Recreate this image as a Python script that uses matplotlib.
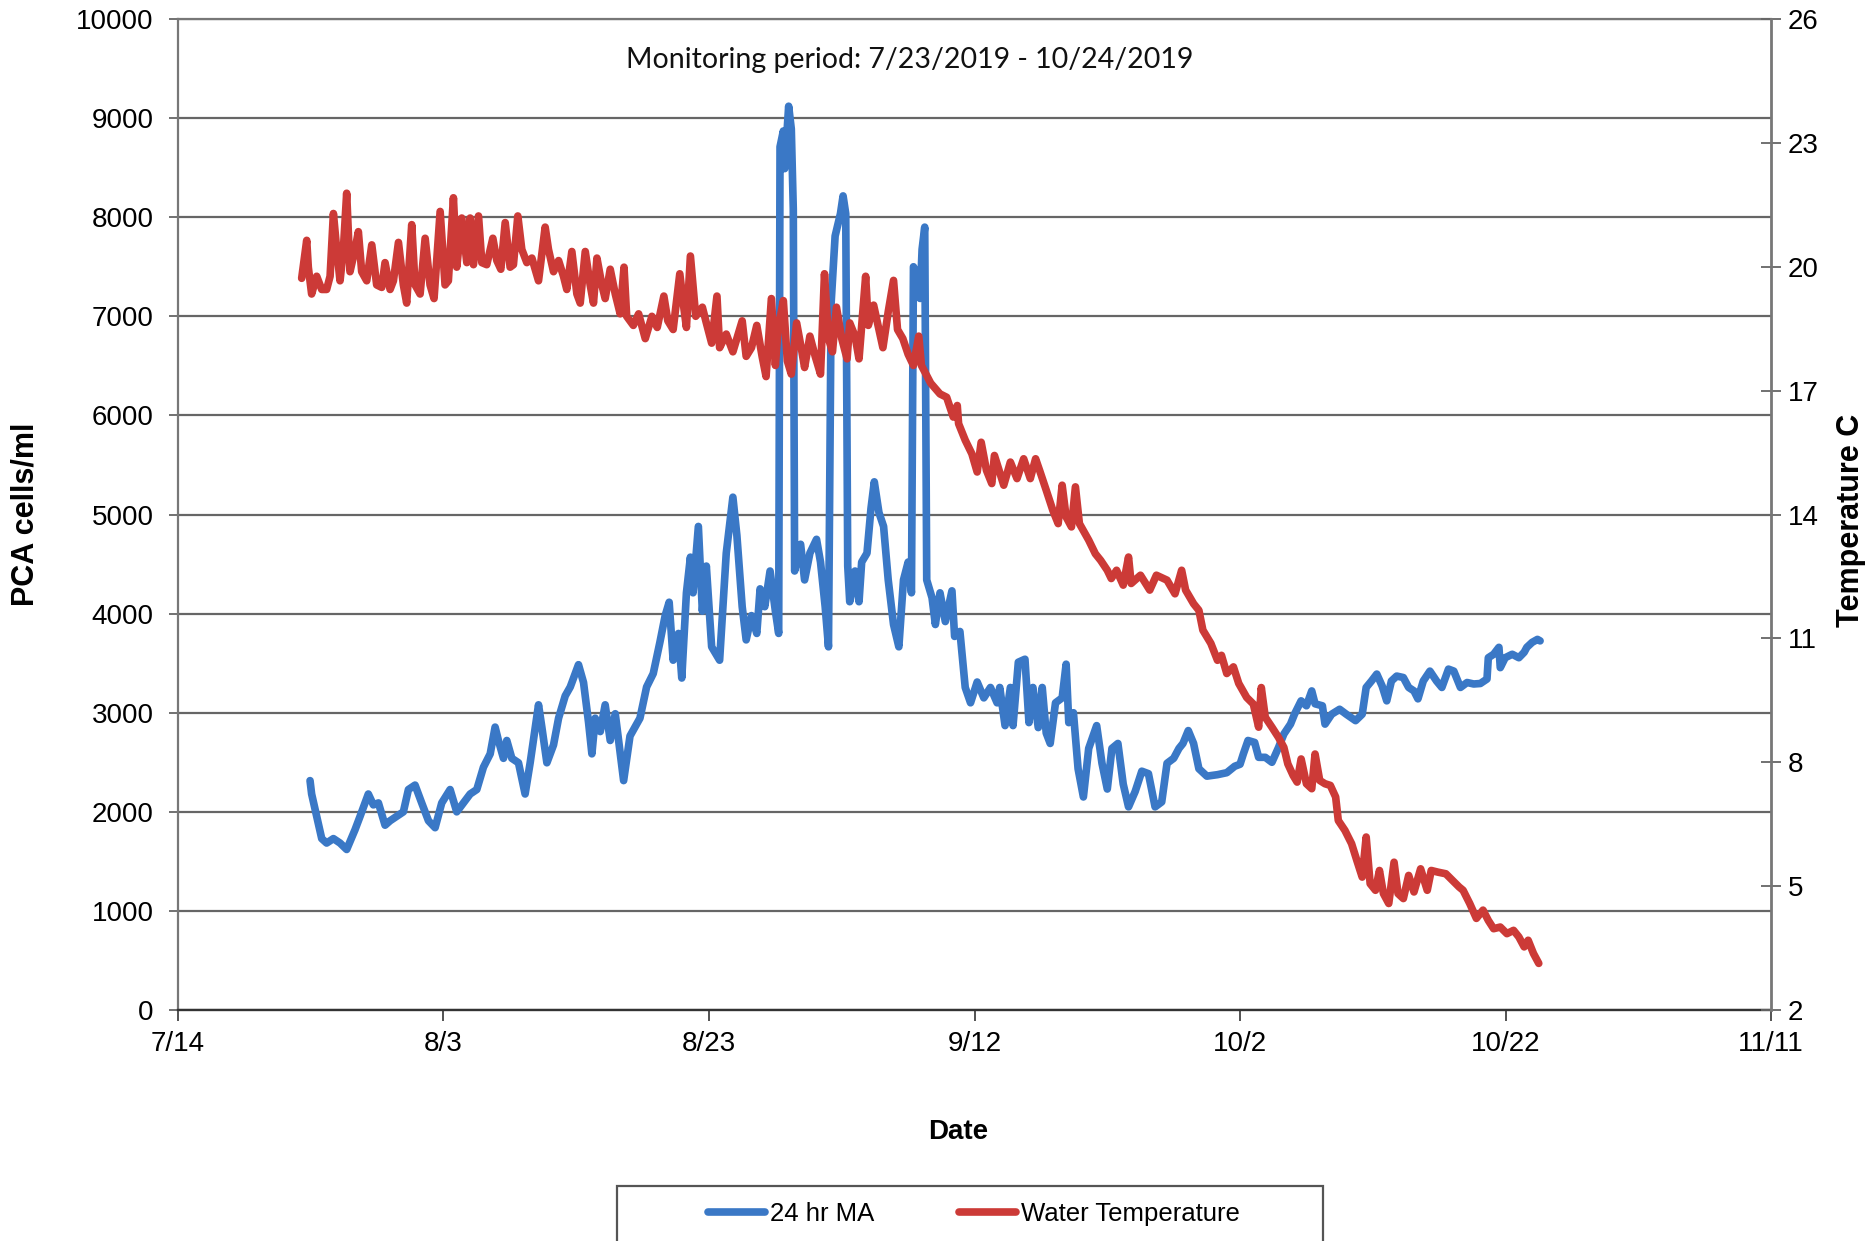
import numpy as np
import pandas as pd
import matplotlib
matplotlib.use("Agg")
import matplotlib.pyplot as plt
from matplotlib.patches import Rectangle

plt.rcParams["font.family"] = ["Liberation Sans", "DejaVu Sans"]

START = pd.Timestamp("2019-07-14")

# 24 hr moving average, PCA cells/ml  (days after 7/14/2019)
pca_day = [
    9.95, 10.07, 10.45, 10.83, 11.20, 11.71, 12.21, 12.71, 13.34, 13.72,
    14.34, 14.72, 15.10, 15.60, 15.98, 16.48, 16.98, 17.36, 17.86, 18.36,
    18.87, 19.37, 19.87, 20.50, 21.00, 21.51, 22.01, 22.51, 23.01, 23.52,
    23.89, 24.14, 24.52, 24.77, 25.15, 25.65, 26.15, 26.53, 27.16, 27.41,
    27.79, 28.29, 28.67, 29.17, 29.55, 30.17, 30.55, 30.93, 31.18, 31.43,
    31.81, 32.18, 32.56, 32.94, 33.19, 33.57, 34.05, 34.8, 35.3, 35.8,
    36.3, 36.7, 37.0, 37.3, 37.7, 37.95, 38.3, 38.6, 38.8, 39.2,
    39.5, 39.8, 40.2, 40.8, 41.3, 41.8, 42.1, 42.5, 42.8, 43.2,
    43.6, 43.85, 44.2, 44.6, 45.0, 45.25, 45.35, 45.6, 45.7, 46.0,
    46.2, 46.35, 46.45, 46.9, 47.2, 47.6, 48.1, 48.4, 48.75, 49.0,
    49.2, 49.5, 49.9, 50.1, 50.3, 50.45, 50.6, 51.0, 51.3, 51.5,
    51.9, 52.2, 52.45, 52.8, 53.15, 53.5, 53.9, 54.3, 54.65, 55.0,
    55.25, 55.4, 55.7, 55.9, 56.05, 56.25, 56.4, 56.8, 57.05, 57.4,
    57.8, 58.3, 58.5, 58.9, 59.3, 59.7, 60.2, 60.7, 61.2, 61.7,
    61.9, 62.3, 62.7, 62.9, 63.3, 63.8, 64.1, 64.4, 64.8, 65.1,
    65.4, 65.7, 66.1, 66.6, 66.9, 67.1, 67.45, 67.8, 68.2, 68.6,
    69.2, 69.6, 70.0, 70.35, 70.8, 71.2, 71.6, 72.1, 72.6, 73.1,
    73.6, 74.1, 74.5, 75.0, 75.4, 75.7, 76.1, 76.5, 76.9, 77.5,
    78.3, 79.0, 79.6, 80.0, 80.25, 80.6, 81.1, 81.4, 81.9, 82.4,
    82.9, 83.3, 83.8, 84.1, 84.6, 85.0, 85.4, 85.65, 86.2, 86.4,
    86.9, 87.5, 88.0, 88.7, 89.2, 89.5, 89.9, 90.3, 90.7, 91.05,
    91.4, 91.8, 92.3, 92.7, 93.1, 93.4, 93.8, 94.3, 94.8, 95.2,
    95.7, 96.1, 96.6, 97.1, 97.6, 98.1, 98.6, 98.7, 99.1, 99.5,
    99.6, 99.97, 100.5, 101.0, 101.4, 101.6, 102.0, 102.4, 102.6,
]
pca_cells = [
    2315, 2180, 1955, 1730, 1685, 1730, 1685, 1620, 1820, 1955,
    2180, 2070, 2090, 1865, 1910, 1955, 2000, 2225, 2270, 2090,
    1910, 1840, 2090, 2225, 2000, 2090, 2180, 2225, 2450, 2585,
    2855, 2720, 2540, 2720, 2540, 2495, 2180, 2495, 3080, 2855,
    2495, 2675, 2945, 3170, 3260, 3485, 3305, 2900, 2585, 2945,
    2810, 3080, 2720, 2990, 2720, 2315, 2765, 2945, 3260, 3395,
    3710, 3980, 4115, 3530, 3800, 3350, 4210, 4570, 4210, 4880,
    4025, 4480, 3665, 3530, 4610, 5175, 4790, 4070, 3735, 3980,
    3800, 4250, 4070, 4430, 4025, 3800, 8710, 8870, 8490, 9120,
    8890, 8080, 4430, 4700, 4340, 4610, 4750, 4520, 4070, 3665,
    7135, 7810, 8035, 8215, 8035, 4480, 4120, 4430, 4120, 4520,
    4610, 5060, 5330, 5020, 4880, 4340, 3890, 3665, 4340, 4520,
    4210, 7500, 7400, 7180, 7675, 7900, 4340, 4160, 3890, 4210,
    3920, 4230, 3770, 3820, 3255, 3100, 3310, 3150, 3255, 3100,
    3255, 2870, 3255, 2870, 3510, 3540, 2900, 3255, 2850, 3255,
    2795, 2690, 3100, 3150, 3490, 2900, 3000, 2435, 2150, 2640,
    2870, 2490, 2230, 2640, 2690, 2280, 2050, 2205, 2410, 2385,
    2050, 2100, 2490, 2540, 2640, 2690, 2820, 2690, 2435, 2360,
    2375, 2395, 2460, 2480, 2585, 2720, 2700, 2550, 2550, 2500,
    2650, 2785, 2885, 2985, 3120, 3070, 3220, 3090, 3070, 2885,
    2985, 3035, 2985, 2920, 2985, 3255, 3320, 3390, 3270, 3120,
    3320, 3370, 3355, 3255, 3220, 3140, 3320, 3420, 3320, 3255,
    3440, 3420, 3255, 3305, 3290, 3295, 3340, 3555, 3590, 3660,
    3455, 3555, 3590, 3555, 3610, 3660, 3710, 3740, 3725,
]

# water temperature, deg C  (days after 7/14/2019)
temp_day = [
    9.32, 9.70, 9.82, 10.07, 10.45, 10.83, 11.20, 11.46, 11.71, 11.96,
    12.21, 12.46, 12.71, 12.96, 13.34, 13.59, 13.84, 14.22, 14.60, 14.97,
    15.35, 15.60, 15.98, 16.23, 16.61, 16.98, 17.23, 17.61, 17.86, 18.24,
    18.62, 18.99, 19.29, 19.75, 20.12, 20.37, 20.75, 21.00, 21.38, 21.76,
    22.01, 22.26, 22.64, 22.89, 23.26, 23.72, 24.02, 24.32, 24.65, 25.02,
    25.27, 25.60, 25.90, 26.28, 26.66, 27.16, 27.66, 27.91, 28.29, 28.67,
    29.04, 29.29, 29.67, 30.05, 30.30, 30.68, 31.05, 31.30, 31.56, 31.93,
    32.18, 32.56, 32.94, 33.31, 33.6, 33.8, 34.3, 34.7, 35.2, 35.7,
    36.1, 36.6, 36.9, 37.3, 37.8, 38.1, 38.3, 38.6, 39.0, 39.5,
    39.8, 40.2, 40.6, 40.8, 41.3, 41.8, 42.5, 42.8, 43.2, 43.6,
    44.0, 44.3, 44.7, 45.0, 45.2, 45.6, 45.9, 46.2, 46.6, 47.0,
    47.2, 47.6, 48.0, 48.4, 48.7, 49.0, 49.3, 49.6, 50.0, 50.4,
    50.6, 51.0, 51.3, 51.8, 52.0, 52.4, 52.8, 53.1, 53.5, 53.9,
    54.2, 54.6, 55.0, 55.4, 55.8, 56.0, 56.7, 57.4, 57.9, 58.4,
    58.7, 58.8, 59.3, 59.8, 60.2, 60.5, 60.9, 61.3, 61.5, 62.2,
    62.7, 63.2, 63.7, 64.2, 64.6, 64.9, 65.4, 65.9, 66.3, 66.6,
    66.9, 67.3, 67.6, 67.9, 68.6, 69.1, 69.5, 70.0, 70.3, 70.7,
    71.2, 71.6, 71.8, 72.5, 73.2, 73.7, 74.5, 75.1, 75.6, 75.9,
    76.5, 76.9, 77.2, 77.8, 78.3, 78.6, 79.0, 79.5, 79.9, 80.5,
    81.0, 81.4, 81.6, 81.9, 82.4, 82.9, 83.3, 83.6, 84.0, 84.3,
    84.6, 85.0, 85.4, 85.65, 86.0, 86.4, 86.8, 87.2, 87.4, 87.9,
    88.4, 88.8, 89.2, 89.5, 89.8, 90.2, 90.5, 90.8, 91.2, 91.6,
    91.9, 92.3, 92.7, 93.1, 93.6, 94.1, 94.4, 94.9, 95.5, 96.0,
    96.5, 96.8, 97.3, 97.8, 98.3, 98.7, 99.1, 99.6, 100.1, 100.6,
    101.0, 101.4, 101.7, 102.1, 102.5,
]
temp_c = [
    19.72, 20.64, 19.99, 19.34, 19.77, 19.45, 19.45, 19.77, 21.29, 20.42,
    19.66, 20.42, 21.78, 19.88, 20.42, 20.85, 19.88, 19.66, 20.53, 19.56,
    19.50, 20.10, 19.45, 19.66, 20.59, 19.56, 19.12, 21.02, 19.56, 19.34,
    20.69, 19.56, 19.23, 21.34, 19.56, 19.66, 21.67, 19.99, 21.18, 20.10,
    21.18, 20.05, 21.23, 20.10, 20.05, 20.69, 20.15, 19.94, 21.07, 19.99,
    20.05, 21.23, 20.42, 20.10, 20.21, 19.66, 20.96, 20.42, 19.88, 20.15,
    19.77, 19.45, 20.37, 19.34, 19.12, 20.37, 19.56, 19.12, 20.21, 19.56,
    19.23, 19.94, 19.34, 18.86, 19.99, 18.80, 18.58, 18.86, 18.26, 18.80,
    18.53, 19.29, 18.69, 18.48, 19.83, 19.02, 18.53, 20.26, 18.80, 19.02,
    18.64, 18.15, 19.29, 18.04, 18.37, 17.94, 18.69, 17.83, 18.04, 18.58,
    17.83, 17.34, 19.23, 17.61, 18.48, 19.18, 17.72, 17.40, 18.64, 17.94,
    17.56, 18.32, 17.83, 17.40, 19.83, 18.26, 17.94, 19.02, 18.26, 17.77,
    18.64, 18.32, 17.77, 19.77, 18.58, 19.07, 18.48, 18.04, 18.91, 19.67,
    18.48, 18.26, 17.88, 17.61, 18.32, 17.61, 17.18, 16.92, 16.84, 16.36,
    16.64, 16.20, 15.80, 15.47, 15.03, 15.75, 15.07, 14.75, 15.43, 14.71,
    15.27, 14.87, 15.35, 14.87, 15.35, 15.07, 14.59, 14.10, 13.78, 14.71,
    13.94, 13.70, 14.67, 13.78, 13.38, 13.05, 12.89, 12.65, 12.45, 12.65,
    12.29, 12.97, 12.33, 12.53, 12.17, 12.53, 12.41, 12.08, 12.65, 12.17,
    11.84, 11.68, 11.20, 10.88, 10.47, 10.59, 10.15, 10.31, 9.91, 9.57,
    9.41, 8.85, 9.81, 9.09, 8.85, 8.60, 8.36, 7.96, 7.68, 7.52,
    8.08, 7.48, 7.36, 8.20, 7.56, 7.48, 7.44, 7.16, 6.59, 6.35,
    6.03, 5.62, 5.22, 6.19, 5.06, 4.90, 5.38, 4.82, 4.58, 5.58,
    4.82, 4.70, 5.26, 4.86, 5.42, 4.90, 5.38, 5.34, 5.30, 5.14,
    4.98, 4.90, 4.58, 4.22, 4.42, 4.17, 3.97, 4.01, 3.85, 3.93,
    3.77, 3.53, 3.69, 3.37, 3.13,
]

x_tick_labels = ["7/14", "8/3", "8/23", "9/12", "10/2", "10/22", "11/11"]
cell_ticks = list(range(0, 10001, 1000))
temp_ticks = [2, 5, 8, 11, 14, 17, 20, 23, 26]

BLUE = "#3a78c6"
RED = "#cc3a37"
GRID = "#666666"

pca_t = START + pd.to_timedelta(pca_day, unit="D")
temp_t = START + pd.to_timedelta(temp_day, unit="D")
tick_t = pd.date_range(START, periods=len(x_tick_labels), freq="20D")

fig = plt.figure(figsize=(18.73, 12.41), dpi=100)
ax = fig.add_axes([0.0950, 0.1861, 0.8506, 0.7986])
ax2 = ax.twinx()

l1, = ax.plot(pca_t, pca_cells, color=BLUE, lw=5.5, solid_joinstyle="round",
              solid_capstyle="round", label="24 hr MA")
l2, = ax2.plot(temp_t, temp_c, color=RED, lw=5.5, solid_joinstyle="round",
               solid_capstyle="round", label="Water Temperature")

ax.set_xlim(tick_t[0], tick_t[-1])
ax.set_xticks(tick_t)
ax.set_xticklabels(x_tick_labels)
ax.set_ylim(0, 10000)
ax.set_yticks(cell_ticks)
ax2.set_ylim(2, 26)
ax2.set_yticks(temp_ticks)

ax.yaxis.grid(True, color=GRID, lw=1.6)
ax.set_axisbelow(True)

for s in ["left", "top"]:
    ax.spines[s].set_color("#777777")
    ax.spines[s].set_linewidth(1.6)
ax.spines["bottom"].set_color("#333333")
ax.spines["bottom"].set_linewidth(1.7)
ax.spines["right"].set_visible(False)
for s in ["left", "top", "bottom"]:
    ax2.spines[s].set_visible(False)
ax2.spines["right"].set_color("#777777")
ax2.spines["right"].set_linewidth(2)

ax.tick_params(axis="y", direction="out", length=6.5, width=1.3, color="#666666",
               labelsize=20, pad=11)
ax.tick_params(axis="x", direction="out", length=8, width=1.3, color="#444444",
               labelsize=20, pad=7)
ax2.tick_params(axis="y", direction="inout", length=14, width=1.3, color="#666666",
                labelsize=20, pad=5)

ax.set_ylabel("PCA cells/ml", fontsize=22, fontweight="bold")
ax.yaxis.set_label_coords(-0.0954, 0.5)
ax.yaxis.label.set_va("center")
ax2.set_ylabel("Temperature C", fontsize=22, fontweight="bold")
ax2.yaxis.set_label_coords(1.0502, 0.494)
ax2.yaxis.label.set_va("center")
ax.set_xlabel("Date", fontsize=20, fontweight="bold")
ax.xaxis.set_label_coords(0.490, -0.123)
ax.xaxis.label.set_va("center")

ax.text(0.4595, 0.959, "Monitoring period: 7/23/2019 - 10/24/2019",
        transform=ax.transAxes, ha="center", va="center", fontsize=20.5,
        family=["Lato", "DejaVu Sans"], color="#111111")

# legend box runs off the bottom edge, as in the source
fig.patches.append(Rectangle((0.3294, -0.03), 0.3769, 0.0743,
                             transform=fig.transFigure, fill=False,
                             edgecolor="#555555", lw=1.6, clip_on=False))
fig.legend([l1, l2], ["24 hr MA", "Water Temperature"], loc="center",
           bbox_to_anchor=(0.520, 0.0218), ncol=2, frameon=False,
           fontsize=18.5, handlelength=2.2, handletextpad=0.2,
           columnspacing=3.3)

fig.savefig("out.png", dpi=100)
